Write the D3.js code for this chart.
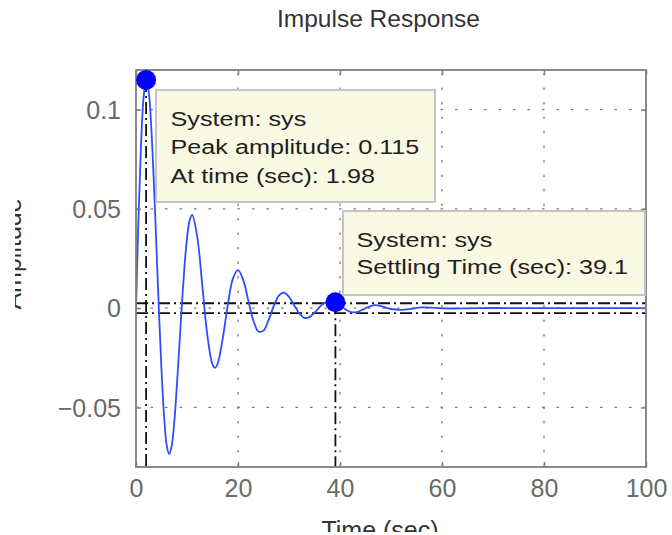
<!DOCTYPE html>
<html>
<head>
<meta charset="utf-8">
<script src="https://cdn.jsdelivr.net/npm/d3@7"></script>
<style>
  html, body { margin: 0; padding: 0; background: #ffffff; }
  svg { display: block; font-family: "Liberation Sans", Arial, Helvetica, sans-serif; }
</style>
</head>
<body>
<svg id="chart" width="672" height="535"></svg>
<script>
// Impulse response samples (time in seconds, amplitude)
const time = [0, 0.5, 1, 1.5, 1.98, 2.5, 3, 3.5, 4, 4.5, 5, 5.5, 6, 6.5, 7, 7.5, 8, 8.5, 9, 9.5,
  10, 10.5, 11, 12, 13, 14, 15, 15.5, 16, 17, 18, 19, 20, 21, 22, 23, 24, 25, 26, 27, 28, 29, 30,
  31, 32, 33, 34, 35, 36, 37, 38, 39.1, 40, 41, 42, 43, 44, 45, 46, 47, 48, 49, 50, 52, 54, 56, 58,
  60, 65, 70, 80, 90, 100];
const amplitude = [0, 0.0466, 0.0832, 0.1065, 0.115, 0.1090, 0.0908, 0.0633, 0.0314, -0.0016,
  -0.0311, -0.0540, -0.0687, -0.0735, -0.0693, -0.0574, -0.0396, -0.0191, 0.0020, 0.0207,
  0.0352, 0.0441, 0.0470, 0.0361, 0.0115, -0.0138, -0.0283, -0.0300, -0.0280, -0.0153, 0.0016,
  0.0149, 0.0192, 0.0144, 0.0041, -0.0061, -0.0117, -0.0113, -0.0059, 0.0010, 0.0063, 0.0078,
  0.0057, 0.0015, -0.0026, -0.0049, -0.0045, -0.0023, 0.0006, 0.0026, 0.0032, 0.0030, 0.0016,
  -0.0004, -0.0018, -0.0021, -0.0013, 0.0000, 0.0011, 0.0015, 0.0011, 0.0003, -0.0004, -0.0008,
  -0.0003, 0.0004, 0.0003, -0.0001, -0.0001, 0.0001, 0, 0, 0];

// Response characteristics
const systemName = "sys";
const peakTime = 1.98;
const peakAmplitude = 0.115;
const settlingTime = 39.1;
const settlingAmplitude = 0.0030;
const settlingBand = 0.0025;

// Axis ticks
const xTicks = [0, 20, 40, 60, 80, 100];
const yTicks = [-0.05, 0, 0.05, 0.1];
const xDomain = [0, 100];
const yDomain = [-0.08, 0.12];

const titleText = "Impulse Response";
const xLabelText = "Time (sec)";
const yLabelText = "Amplitude";

const svg = d3.select("#chart");
const W = 672, H = 535;
const m = { left: 136, right: 646, top: 70, bottom: 467 };

const x = d3.scaleLinear().domain(xDomain).range([m.left, m.right]);
const y = d3.scaleLinear().domain(yDomain).range([m.bottom, m.top]);

const defs = svg.append("defs");
defs.append("clipPath").attr("id", "plotClip")
  .append("rect").attr("x", m.left).attr("y", m.top)
  .attr("width", m.right - m.left).attr("height", m.bottom - m.top);
// The figure window trims the outer axis labels
defs.append("clipPath").attr("id", "ylabClip")
  .append("rect").attr("x", 15).attr("y", 0).attr("width", 60).attr("height", H);
defs.append("clipPath").attr("id", "xlabClip")
  .append("rect").attr("x", 0).attr("y", 480).attr("width", W).attr("height", 52);

// Grid (dotted)
const grid = svg.append("g").attr("stroke", "#7a7a7a").attr("stroke-width", 1.3)
  .attr("stroke-dasharray", "2.5,12").attr("fill", "none");
grid.selectAll("line.gx").data(xTicks.filter(d => d > xDomain[0] && d < xDomain[1]))
  .join("line").attr("class", "gx")
  .attr("x1", d => x(d)).attr("x2", d => x(d))
  .attr("y1", m.bottom).attr("y2", m.top);
grid.selectAll("line.gy").data(yTicks)
  .join("line").attr("class", "gy")
  .attr("x1", m.left).attr("x2", m.right)
  .attr("y1", d => y(d)).attr("y2", d => y(d));

// Characteristic markers (dash-dot)
const dd = svg.append("g").attr("stroke", "#111111").attr("stroke-width", 1.8)
  .attr("stroke-dasharray", "12,4,2,4").attr("fill", "none")
  .attr("clip-path", "url(#plotClip)");
dd.append("line").attr("x1", x(peakTime)).attr("x2", x(peakTime))
  .attr("y1", y(peakAmplitude)).attr("y2", m.bottom);
dd.append("line").attr("x1", m.left).attr("x2", x(peakTime))
  .attr("y1", y(peakAmplitude)).attr("y2", y(peakAmplitude));
dd.append("line").attr("x1", x(settlingTime)).attr("x2", x(settlingTime))
  .attr("y1", y(settlingAmplitude)).attr("y2", m.bottom);
[settlingBand, -settlingBand].forEach(b => {
  dd.append("line").attr("x1", m.left).attr("x2", m.right)
    .attr("y1", y(b)).attr("y2", y(b));
});

// Response curve
const pts = time.map((t, i) => [t, amplitude[i]]);
svg.append("path")
  .datum(pts)
  .attr("clip-path", "url(#plotClip)")
  .attr("fill", "none")
  .attr("stroke", "#2f4dff")
  .attr("stroke-width", 1.8)
  .attr("d", d3.line().x(d => x(d[0])).y(d => y(d[1])).curve(d3.curveCatmullRom.alpha(0.5)));

// Axes box and ticks
const axisColor = "#7f7f7f";
svg.append("rect").attr("x", m.left).attr("y", m.top)
  .attr("width", m.right - m.left).attr("height", m.bottom - m.top)
  .attr("fill", "none").attr("stroke", axisColor).attr("stroke-width", 1.8);

const xAxisB = d3.axisBottom(x).tickValues(xTicks).tickSizeInner(-5).tickSizeOuter(0).tickPadding(12);
const gxB = svg.append("g").attr("transform", `translate(0,${m.bottom})`).call(xAxisB);
const xAxisT = d3.axisTop(x).tickValues(xTicks).tickSizeInner(-5).tickSizeOuter(0).tickFormat("");
const gxT = svg.append("g").attr("transform", `translate(0,${m.top})`).call(xAxisT);
const yAxisL = d3.axisLeft(y).tickValues(yTicks).tickSizeInner(-5).tickSizeOuter(0).tickPadding(15)
  .tickFormat(d => d === 0 ? "0" : (d < 0 ? "\u2212" : "") + String(Math.abs(d)));
const gyL = svg.append("g").attr("transform", `translate(${m.left},0)`).call(yAxisL);
const yAxisR = d3.axisRight(y).tickValues(yTicks).tickSizeInner(-5).tickSizeOuter(0).tickFormat("");
const gyR = svg.append("g").attr("transform", `translate(${m.right},0)`).call(yAxisR);

[gxB, gxT, gyL, gyR].forEach(g => {
  g.select(".domain").remove();
  g.selectAll(".tick line").attr("stroke", axisColor).attr("stroke-width", 1.5);
  g.selectAll(".tick text").attr("fill", "#6a6a6a")
    .attr("font-family", "'Liberation Sans', Arial, sans-serif").attr("font-size", 25);
});
gxB.selectAll(".tick text").attr("dy", "0.71em");
gyL.selectAll(".tick text").attr("dy", "0.35em");

// Markers
svg.append("circle").attr("cx", x(peakTime)).attr("cy", y(peakAmplitude))
  .attr("r", 10).attr("fill", "#0000ff");
svg.append("circle").attr("cx", x(settlingTime)).attr("cy", y(settlingAmplitude))
  .attr("r", 10).attr("fill", "#0000ff");

// Data tips
function dataTip(x0, y0, x1, y1, lines, tx, baselines) {
  const g = svg.append("g");
  g.append("rect").attr("x", x0).attr("y", y0).attr("width", x1 - x0).attr("height", y1 - y0)
    .attr("fill", "#fafae4").attr("stroke", "#c4c4c4").attr("stroke-width", 2);
  lines.forEach((s, i) => {
    g.append("text")
      .attr("transform", `translate(${tx},${baselines[i]}) scale(1.2,1)`)
      .attr("font-size", 21).attr("fill", "#1e1e1e").text(s);
  });
}
dataTip(156, 90, 435, 202,
  [`System: ${systemName}`, `Peak amplitude: ${peakAmplitude}`, `At time (sec): ${peakTime}`],
  170.5, [125.7, 154.3, 183]);
dataTip(343, 211, 645, 295,
  [`System: ${systemName}`, `Settling Time (sec): ${settlingTime}`],
  356.5, [246.7, 274]);

// Title and axis labels
svg.append("text").attr("x", 378.5).attr("y", 26.5).attr("text-anchor", "middle")
  .attr("font-size", 24.5).attr("fill", "#333333").text(titleText);
svg.append("g").attr("clip-path", "url(#xlabClip)")
  .append("text").attr("x", 380).attr("y", 538.5).attr("text-anchor", "middle")
  .attr("font-size", 25).attr("fill", "#333333").text(xLabelText);
svg.append("g").attr("clip-path", "url(#ylabClip)")
  .append("text").attr("transform", "translate(21,254) rotate(-90)").attr("text-anchor", "middle")
  .attr("font-size", 25).attr("fill", "#333333").text(yLabelText);
</script>
</body>
</html>
